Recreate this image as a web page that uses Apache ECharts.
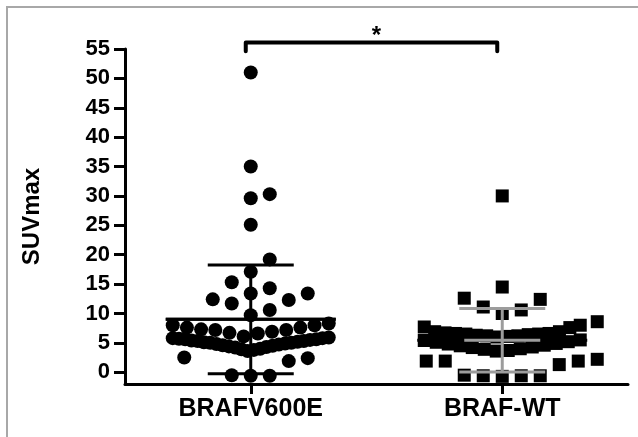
<!DOCTYPE html>
<html><head><meta charset="utf-8">
<script src="https://cdn.jsdelivr.net/npm/echarts@6/dist/echarts.min.js"></script>
<style>html,body{margin:0;padding:0;background:#fff}#c{width:638px;height:437px}</style>
</head><body><div id="c"></div>
<script>
// ---------- data ----------
const categories = ['BRAFV600E', 'BRAF-WT'];
const groupX = [1, 3];
const brafV600EValues = [
  51.0, 35.0, 30.3, 29.6, 25.1, 19.2, 17.1, 15.3, 14.3, 13.4, 13.4, 12.4, 12.3, 11.7, 10.6, 9.7,
  8.3, 8.0, 8.0, 7.6, 7.6, 7.3, 7.2, 7.2, 6.9, 6.7, 6.6, 6.1,
  5.9, 5.8, 5.8, 5.7, 5.6, 5.6, 5.5, 5.4, 5.3, 5.3, 5.2, 5.1, 5.0, 5.0, 4.9, 4.8, 4.7, 4.6, 4.5, 4.4, 4.3, 4.2, 4.0, 3.9, 3.8, 3.6,
  2.5, 2.4, 1.9,
  -0.6, -0.5, -0.6
];
const brafWTValues = [
  30.0, 14.5, 12.6, 12.4, 11.1, 10.6, 10.0, 8.6,
  8.0, 7.7, 7.6, 6.9, 6.9, 6.6, 6.7, 6.6, 6.5, 6.5, 6.4, 6.3, 6.2, 6.2, 6.1, 6.0,
  5.5, 5.4, 5.2, 5.1, 4.9, 4.8, 4.6, 4.5, 4.3, 4.2, 4.0, 3.9, 3.7, 3.6,
  2.2, 1.9, 1.9, 1.9, 1.3,
  -0.6, -0.5, -0.6, -0.7, -0.6
];
const groupMeans = [9.0, 5.45];
const groupSDs = [9.25, 5.4];
const yTickValues = [0, 5, 10, 15, 20, 25, 30, 35, 40, 45, 50, 55];
const significance = { from: 1, to: 3, label: '*' };

// ---------- layout ----------
const GRID = { left: 125, right: 10, top: 49, bottom: 53 };
const X_MIN = 0, X_MAX = 4, Y_MIN = -2, Y_MAX = 55;
const PLOT_W = 638 - GRID.left - GRID.right;
const PLOT_H = 437 - GRID.top - GRID.bottom;
const pxToX = px => px * (X_MAX - X_MIN) / PLOT_W;
const yToPx = v => v * PLOT_H / (Y_MAX - Y_MIN);
const FONT = "'Liberation Sans', Arial, Helvetica, sans-serif";

// column-scatter spread: dense value bins are spread centre-out (overlapping if needed),
// the sparse points are then placed on a half-step grid at the nearest free slot.
function spread(values, center) {
  const binH = 2.45, anchor = 1.05, step = 19, maxW = 156, minDist = 17;
  const bins = {};
  values.forEach(v => {
    const k = Math.floor((v - anchor) / binH);
    (bins[k] = bins[k] || []).push(v);
  });
  const placed = []; // [offsetPx, yPx, value]
  const sparse = [];
  Object.keys(bins).forEach(k => {
    const arr = bins[k].slice().sort((a, b) => a - b);
    const n = arr.length;
    if (n < 10) { sparse.push(...arr); return; }
    const s = Math.min(step, maxW / (n - 1));
    arr.forEach((v, i) => {
      let slot;
      if (n % 2) slot = i === 0 ? 0 : (i % 2 ? 1 : -1) * Math.ceil(i / 2);
      else slot = (i % 2 ? 1 : -1) * (Math.floor(i / 2) + 0.5);
      placed.push([slot * s, yToPx(v), v]);
    });
  });
  sparse.sort((a, b) => a - b);
  const cands = [0];
  for (let j = 1; j <= 10; j++) { cands.push(j * step / 2, -j * step / 2); }
  sparse.forEach(v => {
    const y = yToPx(v);
    let best = 0;
    for (const c of cands) {
      if (placed.every(p => Math.hypot(p[0] - c, p[1] - y) >= minDist)) { best = c; break; }
    }
    placed.push([best, y, v]);
  });
  return placed.map(p => [center + pxToX(p[0]), p[2]]);
}

const barStyles = [
  { color: '#000000', meanHalf: 85, capHalf: 43 },
  { color: '#9c9c9c', meanHalf: 38, capHalf: 43 }
];
const barData = groupX.map((x, i) => [x, groupMeans[i], groupSDs[i]]);

function backRender(params, api) {
  const x = api.value(0), m = api.value(1);
  const c = api.coord([x, m]);
  return { type: 'line', shape: { x1: c[0] - 85, y1: c[1], x2: c[0] + 85, y2: c[1] },
    style: { stroke: '#000', lineWidth: 3 } };
}
function frontRender(params, api) {
  const st = barStyles[params.dataIndex];
  const x = api.value(0), m = api.value(1), sd = api.value(2);
  const c = api.coord([x, m]), t = api.coord([x, m + sd]), b = api.coord([x, m - sd]);
  const style = { stroke: st.color, lineWidth: 3 };
  return { type: 'group', children: [
    { type: 'line', shape: { x1: c[0], y1: t[1], x2: c[0], y2: b[1] }, style },
    { type: 'line', shape: { x1: c[0] - st.capHalf, y1: t[1], x2: c[0] + st.capHalf, y2: t[1] }, style },
    { type: 'line', shape: { x1: c[0] - st.capHalf, y1: b[1], x2: c[0] + st.capHalf, y2: b[1] }, style },
    { type: 'line', shape: { x1: c[0] - st.meanHalf, y1: c[1], x2: c[0] + st.meanHalf, y2: c[1] }, style }
  ]};
}
function bracketRender(params, api) {
  const a = api.coord([api.value(0), 56.1]), b = api.coord([api.value(1), 56.1]);
  const foot = api.coord([api.value(0), 54.6])[1];
  const mid = api.coord([(api.value(0) + api.value(1)) / 2, 57.2]);
  return { type: 'group', children: [
    { type: 'polyline', shape: { points: [[a[0] - 5, foot], [a[0] - 5, a[1]], [b[0] - 5, b[1]], [b[0] - 5, foot]] },
      style: { stroke: '#000', lineWidth: 4, fill: null, lineCap: 'round', lineJoin: 'round' } },
    { type: 'text', x: mid[0], y: mid[1], style: { text: significance.label, font: 'bold 24px ' + FONT,
      fill: '#000', align: 'center', verticalAlign: 'middle' } }
  ]};
}

const chart = echarts.init(document.getElementById('c'), null, { renderer: 'canvas' });
chart.setOption({
  animation: false,
  backgroundColor: '#ffffff',
  graphic: [{ type: 'rect', shape: { x: 7, y: 7, width: 700, height: 500 },
    style: { fill: null, stroke: '#a8a8a8', lineWidth: 2 }, silent: true }],
  grid: GRID,
  xAxis: {
    type: 'value', min: X_MIN, max: X_MAX,
    splitLine: { show: false },
    axisLine: { onZero: false, lineStyle: { color: '#000', width: 3 } },
    axisTick: { customValues: groupX, length: 10, lineStyle: { color: '#000', width: 3 } },
    axisLabel: { customValues: groupX, formatter: v => categories[groupX.indexOf(v)] || '',
      fontFamily: FONT, fontWeight: 'bold', fontSize: 25, color: '#000', margin: 13 }
  },
  yAxis: {
    type: 'value', min: Y_MIN, max: Y_MAX,
    name: 'SUVmax', nameLocation: 'middle', nameGap: 81, nameRotate: 90,
    nameTextStyle: { fontFamily: FONT, fontWeight: 'bold', fontSize: 24, color: '#000' },
    splitLine: { show: false },
    axisLine: { onZero: false, lineStyle: { color: '#000', width: 3 } },
    axisTick: { customValues: yTickValues, length: 11, lineStyle: { color: '#000', width: 3 } },
    axisLabel: { customValues: yTickValues, fontFamily: FONT, fontWeight: 'bold', fontSize: 22,
      color: '#000', margin: 15 }
  },
  series: [
    { type: 'custom', z: 1, renderItem: backRender, data: barData, silent: true },
    { type: 'scatter', z: 2, symbol: 'circle', symbolSize: 14, itemStyle: { color: '#000', opacity: 1 },
      data: spread(brafV600EValues, groupX[0]), silent: true },
    { type: 'scatter', z: 2, symbol: 'rect', symbolSize: 13, itemStyle: { color: '#000', opacity: 1 },
      data: spread(brafWTValues, groupX[1]), silent: true },
    { type: 'custom', z: 3, renderItem: frontRender, data: barData, silent: true },
    { type: 'custom', z: 3, renderItem: bracketRender, data: [[significance.from, significance.to]], silent: true }
  ]
});
</script></body></html>
